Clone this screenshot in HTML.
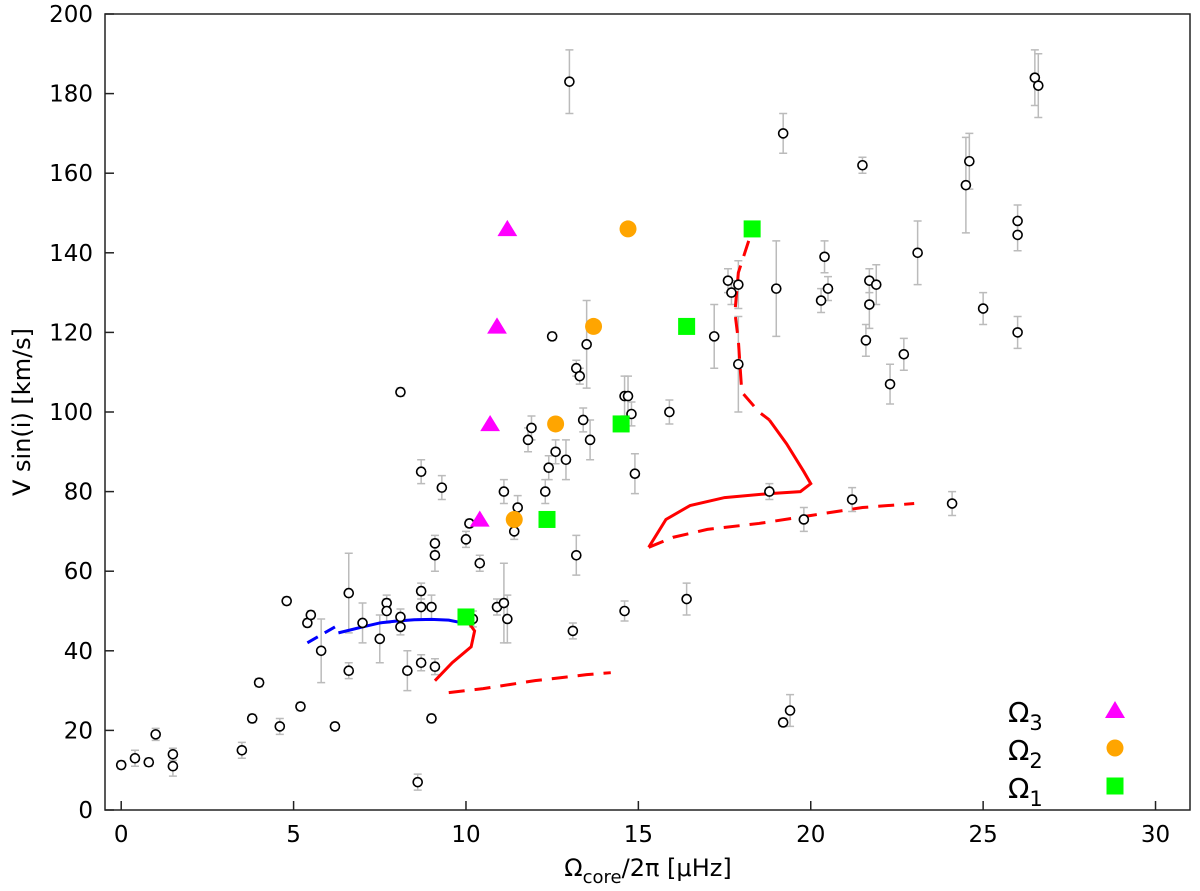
<!DOCTYPE html>
<html><head><meta charset="utf-8"><style>
body{margin:0;background:#fff}
svg text{font-family:"DejaVu Sans","Liberation Sans",sans-serif;fill:#000}
</style></head><body>
<svg id="chart" width="1200" height="891" viewBox="0 0 1200 891" xmlns="http://www.w3.org/2000/svg" style="position:absolute;left:0;top:0">
<g id="plot"></g>
</svg>
<script>
const xTicks=[0,5,10,15,20,25,30];
const yTicks=[0,20,40,60,80,100,120,140,160,180,200];
const obsX=[0,0.4,0.8,1,1.5,1.5,3.5,3.8,4,4.6,4.8,5.2,5.4,5.5,5.8,6.2,6.6,6.6,7,7.5,7.7,7.7,8.1,8.1,8.1,8.3,8.7,8.6,8.7,8.7,8.7,9,9,9.1,9.1,9.1,9.3,10,10.1,10.2,10.4,10.9,11.1,11.1,11.2,11.4,11.5,11.8,11.9,12.3,12.4,12.5,12.6,12.9,13,13.1,13.2,13.2,13.3,13.4,13.5,13.6,14.6,14.7,14.6,14.8,14.9,15.9,16.4,17.2,17.6,17.7,17.9,17.9,18.8,19.8,19.2,19.4,19.2,19.0,20.3,20.4,20.5,21.2,21.5,21.6,21.7,21.7,21.9,22.3,22.7,23.1,24.1,24.5,24.6,25,26,26,26,26.5,26.6];
const obsY=[11.3,13,12,19,11,14,15,23,32,21,52.5,26,47,49,40,21,54.5,35,47,43,52,50,48.5,46,105,35,85,7,37,55,51,23,51,36,67,64,81,68,72,48,62,51,80,52,48,70,76,93,96,80,86,119,90,88,183,45,64,111,109,98,117,93,104,104,50,99.5,84.5,100,53,119,133,130,132,112,80,73,22,25,170,131,128,139,131,78,162,118,127,133,132,107,114.5,140,77,157,163,126,148,144.5,120,184,182];
const obsErr=[1,2,1,1.5,2.5,1.5,2,1,1,2,1,1,1,1,8,1,10,2,5,6,2,3,2,2,1,5,3,2,2,2,3,1,3,2,2,4,3,2,1,2,2,2,3,10,6,2,3,3,3,3,3,1,3,5,8,2,5,2,2,3,11,5,5,5,2.5,3,5,3,4,8,3,3,6,12,2,3,1,4,5,12,3,4,3,3,2,4,6,3,5,5,4,8,3,12,7,4,4,4,4,7,8];
const om3X=[10.4,10.7,10.9,11.2], om3Y=[73,97,121.5,146];
const om2X=[11.4,12.6,13.7,14.7], om2Y=[73,97,121.5,146];
const om1X=[10,12.35,14.5,16.4,18.3], om1Y=[48.5,73,97,121.5,146];
const blueSolidX=[6.3,7,7.5,8,8.5,9,9.5,9.9], blueSolidY=[44.5,46,47,47.5,47.8,47.9,47.7,47];
const blueDashX=[5.4,5.8,6.2], blueDashY=[42,44,46];
const red1X=[10,10.25,10.15,9.6,9.1], red1Y=[48,45,41,37,32.5];
const red1dX=[9.5,10.5,12,13.5,14.2], red1dY=[29.5,30.5,32.5,34,34.5];
const red2dX=[18.2,17.9,17.8,17.9,18.0,18.5,18.8], red2dY=[143,135,125,118,105,100,98];
const red2X=[18.8,19.3,19.8,20,19.7,18.8,17.5,16.5,15.8,15.3], red2Y=[98,92,85,82,80,79.5,78.5,76.5,73,66];
const red3dX=[15.3,16,17,18.5,20,21.5,23], red3dY=[66,68.5,70.5,72,74,76,77];

const L=105,R=1190,T=14,B=810,xmin=-0.47,xmax=31.0,ymin=0,ymax=200;
const sx=v=>L+(v-xmin)/(xmax-xmin)*(R-L);
const sy=v=>B-(v-ymin)/(ymax-ymin)*(B-T);
const NS='http://www.w3.org/2000/svg';
const g=document.getElementById('plot');
function mk(tag,attrs,parent){const e=document.createElementNS(NS,tag);for(const k in attrs)e.setAttribute(k,attrs[k]);(parent||g).appendChild(e);return e;}

for(let i=0;i<obsX.length;i++){
  const x=sx(obsX[i]),y1=sy(obsY[i]-obsErr[i]),y2=sy(obsY[i]+obsErr[i]);
  const eb=mk('path',{d:`M${x},${y1}V${y2}M${x-4},${y1}H${x+4}M${x-4},${y2}H${x+4}`,stroke:'#bbb','stroke-width':1.5,fill:'none'});
  
  
}
function line(xs,ys,color,dash,name){
  const d=xs.map((v,i)=>(i?'L':'M')+sx(v)+','+sy(ys[i])).join('');
  const p=mk('path',{d:d,stroke:color,'stroke-width':3,fill:'none','stroke-dasharray':dash||'none'});
  
  
}
line(blueSolidX,blueSolidY,'#0000ff','', 'blue-track-solid');
line(blueDashX,blueDashY,'#0000ff','12,8','blue-track-dashed');
line(red1X,red1Y,'#ff0000','','red-track-1');
line(red1dX,red1dY,'#ff0000','16,10','red-track-1-dashed');
line(red2dX,red2dY,'#ff0000','16,10','red-track-2-dashed');
line(red2X,red2Y,'#ff0000','','red-track-2');
line(red3dX,red3dY,'#ff0000','16,10','red-track-3-dashed');

for(let i=0;i<obsX.length;i++){
  const c=mk('circle',{cx:sx(obsX[i]),cy:sy(obsY[i]),r:4.5,fill:'#fff',stroke:'#000','stroke-width':1.6});
  
  
}
function tri(x,y,s){return `${x},${y-s} ${x-s*1.1},${y+s*0.8} ${x+s*1.1},${y+s*0.8}`;}
for(let i=0;i<om3X.length;i++){
  const p=mk('polygon',{points:tri(sx(om3X[i]),sy(om3Y[i]),9),fill:'#ff00ff'});
  
  
}
for(let i=0;i<om2X.length;i++){
  const c=mk('circle',{cx:sx(om2X[i]),cy:sy(om2Y[i]),r:8.5,fill:'#ffa500'});
  
  
}
for(let i=0;i<om1X.length;i++){
  const r=mk('rect',{x:sx(om1X[i])-8.5,y:sy(om1Y[i])-8.5,width:17,height:17,fill:'#00ff00'});
  
  
}
const fr=mk('rect',{x:L,y:T,width:R-L,height:B-T,fill:'none',stroke:'#222','stroke-width':1.5});


for(const t of xTicks){
  const x=sx(t);
  const tk=mk('line',{x1:x,x2:x,y1:B,y2:B-9,stroke:'#222','stroke-width':1.5});
  
  
  const tx=mk('text',{x:x,y:B+32,'text-anchor':'middle','font-size':23});
  tx.textContent=t;
  
  
}
for(const t of yTicks){
  const y=sy(t);
  const tk=mk('line',{x1:L,x2:L+9,y1:y,y2:y,stroke:'#222','stroke-width':1.5});
  
  
  const tx=mk('text',{x:L-12,y:y+8,'text-anchor':'end','font-size':23});
  tx.textContent=t;
  
  
}
</script>
<svg style="position:absolute;left:0;top:0" width="1200" height="891">
<text x="648" y="876" text-anchor="middle" font-size="24">Ω<tspan font-size="18" dy="7">core</tspan><tspan dy="-7">/2π [μHz]</tspan></text>
<text transform="translate(30,412) rotate(-90)" text-anchor="middle" font-size="24">V sin(i) [km/s]</text>
<g>
<text x="1008" y="722" font-size="28">Ω<tspan font-size="21" dy="8">3</tspan></text>
<polygon points="1115,701 1105,718 1125,718" fill="#ff00ff"/>
<text x="1008" y="760" font-size="28">Ω<tspan font-size="21" dy="8">2</tspan></text>
<circle cx="1115" cy="748" r="8.5" fill="#ffa500"/>
<text x="1008" y="798" font-size="28">Ω<tspan font-size="21" dy="8">1</tspan></text>
<rect x="1106.5" y="777.5" width="17" height="17" fill="#00ff00"/>
</g>
</svg>
</body></html>
